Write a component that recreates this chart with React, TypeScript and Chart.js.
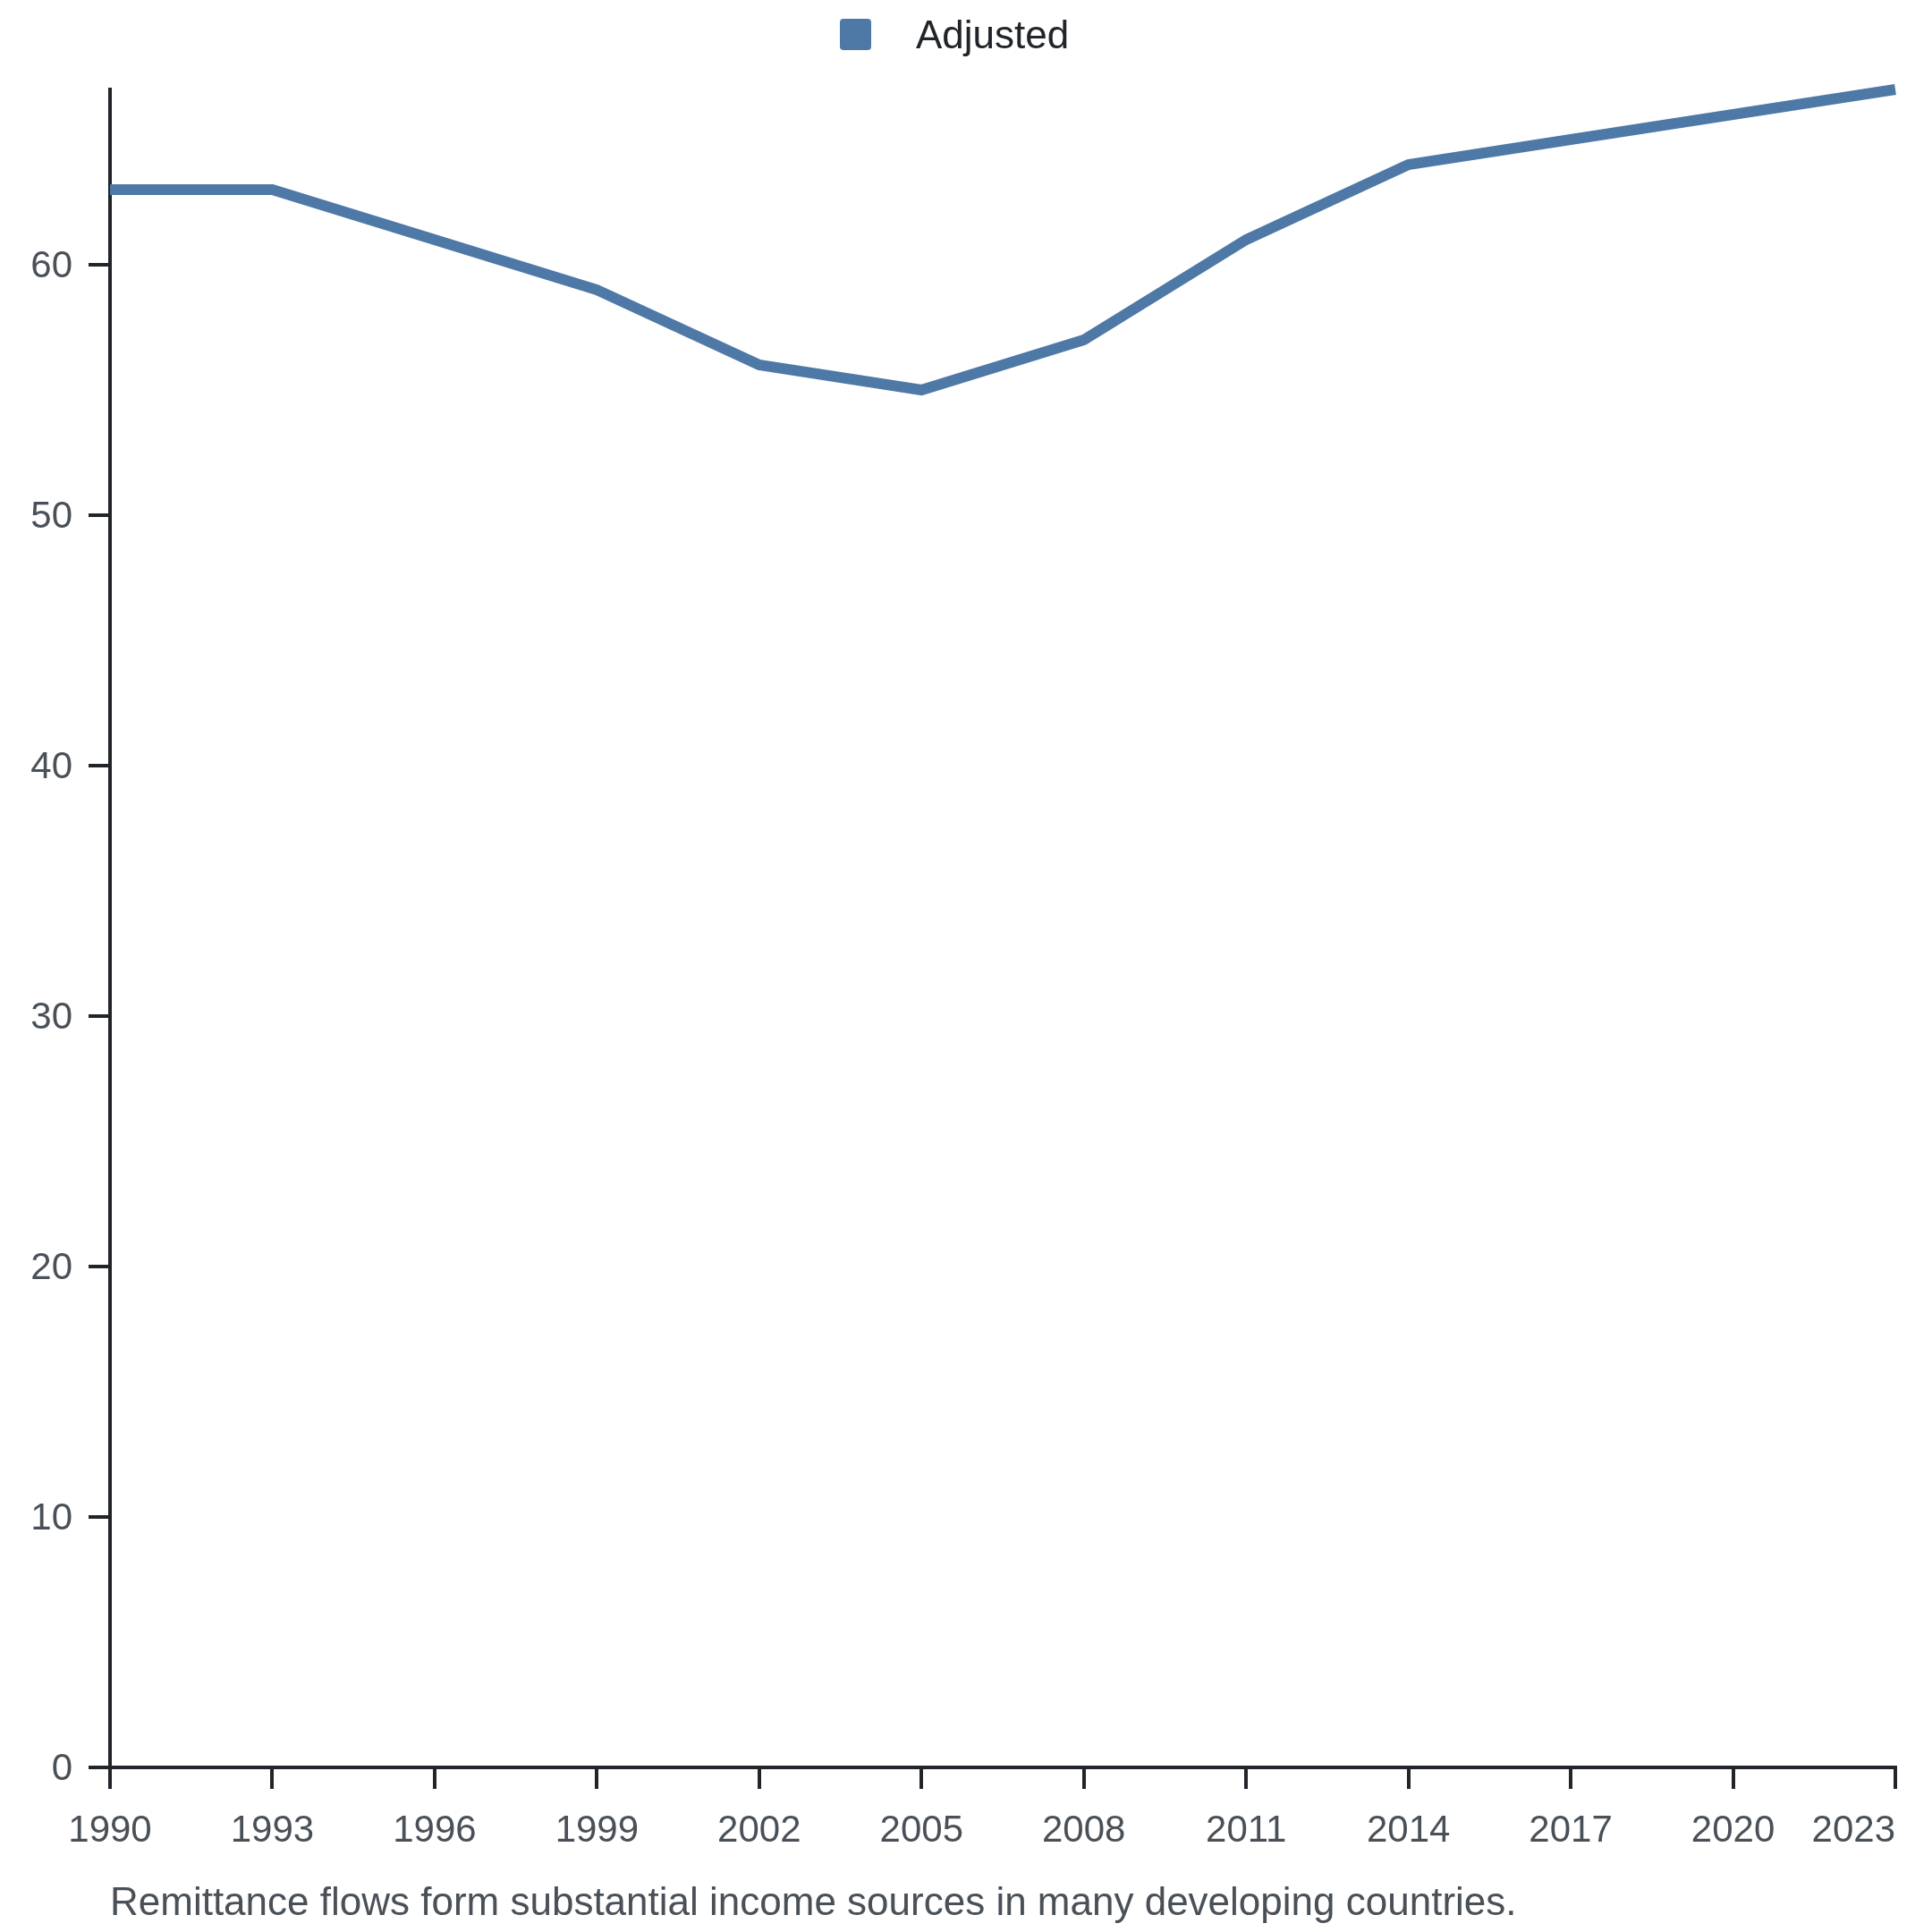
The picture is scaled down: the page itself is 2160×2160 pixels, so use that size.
import React, { useEffect, useRef } from 'react';
import { Chart, registerables } from 'chart.js';

Chart.register(...registerables);

const years: string[] = ['1990', '1993', '1996', '1999', '2002', '2005', '2008', '2011', '2014', '2017', '2020', '2023'];
const adjusted: number[] = [63, 63, 61, 59, 56, 55, 57, 61, 64, 65, 66, 67];
const seriesLabel = 'Adjusted';
const caption = 'Remittance flows form substantial income sources in many developing countries.';
const yStep = 10;

const FONT = '"Liberation Sans", Arial, Helvetica, sans-serif';
const LINE_COLOR = '#4e79a7';
const AXIS_COLOR = '#212529';
const TICK_TEXT = '#495057';
const LEGEND_TEXT = '#212529';

const TICK_LEN = 24;
const X_TICK_PAD = 22;
const Y_TICK_PAD = 18;
const TICK_FONT = 42;
const CAPTION_FONT = 44;

const overlayPlugin = {
  id: 'overlay',
  afterDraw(chart: any) {
    const ctx = chart.ctx as CanvasRenderingContext2D;
    const ds = chart.data.datasets[0];
    ctx.save();
    // legend
    ctx.fillStyle = ds.borderColor;
    ctx.beginPath();
    if ((ctx as any).roundRect) {
      (ctx as any).roundRect(939, 21, 35, 35, 4);
    } else {
      ctx.rect(939, 21, 35, 35);
    }
    ctx.fill();
    ctx.font = `44px ${FONT}`;
    ctx.fillStyle = LEGEND_TEXT;
    ctx.textAlign = 'left';
    ctx.textBaseline = 'middle';
    ctx.fillText(ds.label, 1024, 42);
    // last x tick label, kept inside the canvas
    const xs = chart.scales.x;
    const last = years.length - 1;
    const px = xs.getPixelForValue(last);
    ctx.font = `${TICK_FONT}px ${FONT}`;
    ctx.fillStyle = TICK_TEXT;
    ctx.textAlign = 'right';
    ctx.textBaseline = 'middle';
    ctx.fillText(years[last], px, xs.top + TICK_LEN + X_TICK_PAD + (TICK_FONT * 1.2) / 2);
    ctx.restore();
  },
};

export default function App() {
  const canvasRef = useRef<HTMLCanvasElement | null>(null);

  useEffect(() => {
    document.body.style.margin = '0';
    const canvas = canvasRef.current;
    if (!canvas) return;
    const chart = new Chart(canvas, {
      type: 'line',
      data: {
        labels: years,
        datasets: [
          {
            label: seriesLabel,
            data: adjusted,
            borderColor: LINE_COLOR,
            backgroundColor: LINE_COLOR,
            borderWidth: 12,
            pointRadius: 0,
            pointHoverRadius: 0,
            tension: 0,
            fill: false,
            clip: false as any,
          },
        ],
      },
      options: {
        animation: false,
        responsive: true,
        maintainAspectRatio: false,
        layout: { padding: { top: 100, right: 41, left: 0, bottom: 0 } },
        plugins: {
          legend: { display: false },
          tooltip: { enabled: false },
          title: {
            display: true,
            text: caption,
            position: 'bottom',
            align: 'start',
            fullSize: false,
            color: TICK_TEXT,
            font: { family: FONT, size: CAPTION_FONT, weight: 'normal' },
            padding: { top: 14, bottom: 5 },
          },
        },
        scales: {
          x: {
            type: 'category',
            offset: false,
            afterFit: (s: any) => {
              s.height = 112.2;
            },
            grid: {
              display: true,
              drawOnChartArea: false,
              drawTicks: true,
              tickLength: TICK_LEN,
              color: AXIS_COLOR,
              lineWidth: 4,
              tickWidth: 4,
            },
            border: { display: true, color: AXIS_COLOR, width: 4 },
            ticks: {
              color: TICK_TEXT,
              font: { family: FONT, size: TICK_FONT },
              padding: X_TICK_PAD,
              maxRotation: 0,
              autoSkip: false,
              callback: function (this: any, value: any, index: number) {
                return index === years.length - 1 ? '' : years[index];
              },
            },
          },
          y: {
            type: 'linear',
            min: 0,
            max: Math.max(...adjusted),
            afterFit: (s: any) => {
              s.width = 123;
            },
            grid: {
              display: true,
              drawOnChartArea: false,
              drawTicks: true,
              tickLength: TICK_LEN,
              color: AXIS_COLOR,
              lineWidth: 4,
              tickWidth: 4,
            },
            border: { display: true, color: AXIS_COLOR, width: 4 },
            ticks: {
              stepSize: yStep,
              includeBounds: false,
              color: TICK_TEXT,
              font: { family: FONT, size: TICK_FONT },
              padding: Y_TICK_PAD,
              labelOffset: 2,
            },
          },
        },
      },
      plugins: [overlayPlugin],
    });
    return () => chart.destroy();
  }, []);

  return (
    <div style={{ width: 2160, height: 2160, position: 'relative', background: '#ffffff' }}>
      <canvas ref={canvasRef} />
    </div>
  );
}
